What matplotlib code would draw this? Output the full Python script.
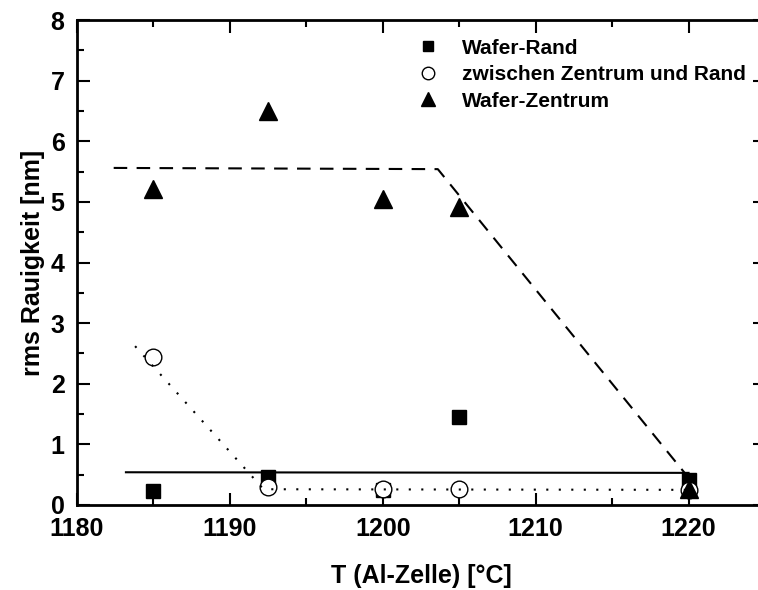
import matplotlib
matplotlib.use('Agg')
import matplotlib.pyplot as plt
from matplotlib.ticker import MultipleLocator

plt.rcParams['font.family'] = ['Liberation Sans', 'DejaVu Sans']
plt.rcParams['font.weight'] = 'bold'

# Messdaten
temp = [1185, 1192.5, 1200, 1205, 1220]
rand = [0.23, 0.46, 0.25, 1.45, 0.42]
zwischen = [2.44, 0.29, 0.26, 0.27, 0.24]
zentrum = [5.22, 6.5, 5.05, 4.92, 0.27]

# Trendlinien (von Hand eingezeichnet)
solid_x = [1183.2, 1220]
solid_y = [0.54, 0.53]
dotted_x = [1183.8, 1192.2, 1220]
dotted_y = [2.62, 0.26, 0.25]
dashed_x = [1182.4, 1203.6, 1220]
dashed_y = [5.56, 5.54, 0.45]

fig = plt.figure(figsize=(7.58, 5.90), dpi=100)
ax = fig.add_axes([77 / 758, 85 / 590, (765 - 77) / 758, 485 / 590])

ax.plot(temp, rand, 's', color='black', markersize=10, label='Wafer-Rand', zorder=3)
ax.plot(temp, zwischen, 'o', markerfacecolor='white', markeredgecolor='black',
        markeredgewidth=1.0, markersize=12, label='zwischen Zentrum und Rand', zorder=4)
ax.plot(temp, zentrum, '^', color='black', markersize=13, label='Wafer-Zentrum', zorder=5)

ax.plot(solid_x, solid_y, '-', color='black', linewidth=1.5, zorder=2)
ax.plot(dotted_x, dotted_y, '-', color='black', linewidth=1.5, dashes=(1, 5), zorder=6)
ax.plot(dashed_x, dashed_y, '-', color='black', linewidth=1.5, dashes=(6.5, 4.5), zorder=2)

ax.set_xlim(1180, 1225)
ax.set_ylim(0, 8)
ax.xaxis.set_major_locator(MultipleLocator(10))
ax.xaxis.set_minor_locator(MultipleLocator(5))
ax.yaxis.set_major_locator(MultipleLocator(1))
ax.yaxis.set_minor_locator(MultipleLocator(0.5))
ax.tick_params(which='both', direction='in', top=True, right=True, width=1.5,
               labelsize=18, pad=9)
ax.tick_params(which='major', length=9)
ax.tick_params(which='minor', length=5)
for s in ax.spines.values():
    s.set_linewidth(2)

ax.set_xlabel('T (Al-Zelle) [°C]', fontsize=18, fontweight='bold', labelpad=16)
ax.set_ylabel('rms Rauigkeit [nm]', fontsize=18, fontweight='bold', labelpad=4)

leg = ax.legend(loc='upper left', bbox_to_anchor=(397 / 758, 570 / 590),
                bbox_transform=fig.transFigure, frameon=False, fontsize=15,
                numpoints=1, handlelength=1.2, handletextpad=1.0, labelspacing=0.36,
                markerscale=0.75)

plt.savefig('out.png', dpi=100)
